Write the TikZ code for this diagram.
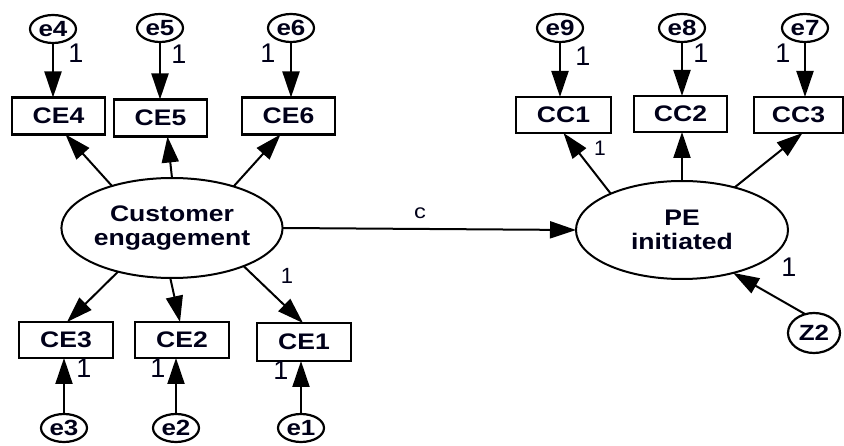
\documentclass[tikz,border=0pt]{standalone}
\usepackage{fontspec}
\setmainfont{Liberation Sans}
\usepackage{graphicx}
\usetikzlibrary{arrows.meta,shapes.geometric}
\newcommand\hstr[1]{\scalebox{1.18}[1]{#1}}
\begin{document}
\begin{tikzpicture}[x=1pt,y=-1pt,
  every node/.style={inner sep=0pt, outer sep=0pt, text=black!90!blue},
  obs/.style={draw=black, line width=2.3pt, minimum width=93pt, minimum height=37pt, font=\bfseries\fontsize{22.5}{24}\selectfont},
  err/.style={draw=black, ellipse, line width=2.2pt, minimum width=46pt, minimum height=28pt, font=\bfseries\fontsize{22}{24}\selectfont},
  lat/.style={draw=black, ellipse, line width=2pt, minimum width=214pt, minimum height=100pt, align=center, font=\bfseries\fontsize{22.5}{24}\selectfont},
  arr/.style={line width=2pt, -{Triangle[length=26pt,width=17pt]}},
  one/.style={font=\fontsize{27}{27}\selectfont},
]
\fill[white] (0,0) rectangle (844,446);
\useasboundingbox (0,0) rectangle (844,446);

% latent variables
\node[lat] (CEng) at (172,228) {\hstr{Customer}\\\hstr{engagement}};
\node[lat, minimum width=212pt, minimum height=98pt] (PE) at (682,230) {\hstr{PE}\\\hstr{initiated}};

% observed: top left
\node[obs] (CE4) at (58.5,116) {\hstr{CE4}};
\node[obs] (CE5) at (160.5,118) {\hstr{CE5}};
\node[obs] (CE6) at (288.5,116) {\hstr{CE6}};
% bottom left
\node[obs, minimum width=94pt, minimum height=36pt] (CE3) at (66,340) {\hstr{CE3}};
\node[obs, minimum width=94pt, minimum height=36pt] (CE2) at (182,340) {\hstr{CE2}};
\node[obs, minimum width=94pt, minimum height=38pt] (CE1) at (304,342) {\hstr{CE1}};
% top right
\node[obs, minimum width=95pt, minimum height=36pt] (CC1) at (563.5,115) {\hstr{CC1}};
\node[obs, minimum width=93pt, minimum height=36pt] (CC2) at (680.5,114) {\hstr{CC2}};
\node[obs, minimum width=89pt, minimum height=36pt] (CC3) at (798.5,115) {\hstr{CC3}};

% error terms
\node[err] (e4) at (53,29) {\hstr{e4}};
\node[err] (e5) at (160,28) {\hstr{e5}};
\node[err] (e6) at (291,28) {\hstr{e6}};
\node[err] (e9) at (560,28) {\hstr{e9}};
\node[err] (e8) at (682,28) {\hstr{e8}};
\node[err] (e7) at (805,28) {\hstr{e7}};
\node[err] (e3) at (64,428) {\hstr{e3}};
\node[err] (e2) at (176,428) {\hstr{e2}};
\node[err] (e1) at (301,428) {\hstr{e1}};
\node[err, minimum width=52pt, minimum height=40pt] (Z2) at (814,333) {\hstr{Z2}};

% error arrows
\draw[arr] (e4.south) -- (e4.south |- CE4.north);
\draw[arr] (e5.south) -- (e5.south |- CE5.north);
\draw[arr] (e6.south) -- (e6.south |- CE6.north);
\draw[arr] (e9.south) -- (e9.south |- CC1.north);
\draw[arr] (e8.south) -- (e8.south |- CC2.north);
\draw[arr] (e7.south) -- (e7.south |- CC3.north);
\draw[arr] (e3.north) -- (e3.north |- CE3.south);
\draw[arr] (e2.north) -- (e2.north |- CE2.south);
\draw[arr] (e1.north) -- (e1.north |- CE1.south);
\draw[arr] (Z2.115) -- (PE.320);

% loadings
\draw[arr] (CEng.145) -- ([xshift=7pt]CE4.south);
\draw[arr] (CEng.90) -- ([xshift=7pt]CE5.south);
\draw[arr] (CEng.34) -- ([xshift=-8pt]CE6.south);
\draw[arr] (CEng.219) -- ([xshift=1pt]CE3.north);
\draw[arr] (CEng.268) -- ([xshift=-2pt]CE2.north);
\draw[arr] (CEng.332) -- ([xshift=-1pt]CE1.north);
\draw[arr] (PE.153) -- (CC1.south);
\draw[arr] (PE.90) -- ([xshift=1.5pt]CC2.south);
\draw[arr] (PE.39) -- ([xshift=4pt]CC3.south);

% structural path
\draw[arr] (CEng.east) -- (PE.west);
\node[font=\fontsize{20}{20}\selectfont] (lc) at (420,213) {\hstr{c}};

% labels "1"
\node[one] (l4) at (76,53) {1};
\node[one] (l5) at (179,54) {1};
\node[one] (l6) at (268,53) {1};
\node[one] (l9) at (583,56) {1};
\node[one] (l8) at (701,53) {1};
\node[one] (l7) at (783,53) {1};
\node[one] (l3) at (84,368) {1};
\node[one] (l2) at (158,368) {1};
\node[one] (l1) at (281,370) {1};
\node[font=\fontsize{22}{22}\selectfont] (lce1) at (287,276) {1};
\node[font=\fontsize{21}{21}\selectfont] (lcc1) at (600,148) {1};
\node[one] (lz2) at (789,267) {1};
\end{tikzpicture}
\end{document}
